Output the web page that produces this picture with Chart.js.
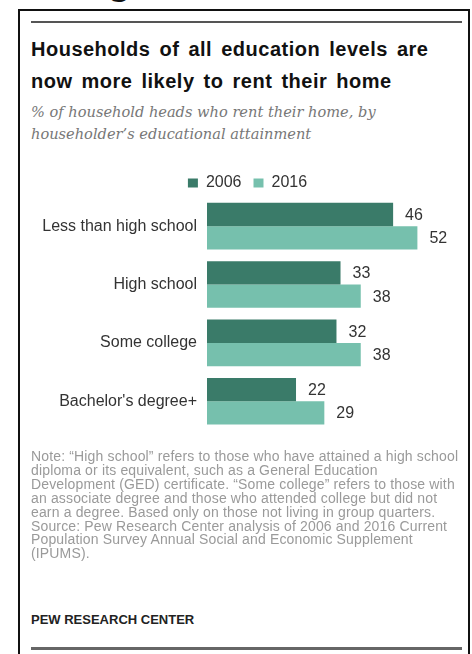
<!DOCTYPE html>
<html>
<head>
<meta charset="utf-8">
<script src="https://cdn.jsdelivr.net/npm/chart.js@4.4.0/dist/chart.umd.min.js"></script>
<style>
  html, body { margin: 0; padding: 0; background: #fff; }
  body { width: 472px; height: 654px; position: relative; overflow: hidden; }
  .frame { position: absolute; left: 18px; top: 9px; width: 452px; height: 700px; box-sizing: border-box;
           border: 2px solid #111; }
  .rule { position: absolute; left: 31px; width: 431px; background: #555; }
  .clip { position: absolute; left: 100px; top: 0; width: 40px; height: 3px; overflow: hidden; }
  .clip span { position: absolute; left: 7px; top: -40px; font-family: "Liberation Sans", Arial, sans-serif;
               font-weight: bold; font-size: 40px; line-height: 40px; color: #111; }
  .title { position: absolute; left: 31px; top: 33px; font-family: "Liberation Sans", Arial, sans-serif;
           font-weight: bold; font-size: 20px; line-height: 32px; color: #111; white-space: nowrap;
           letter-spacing: 0.5px; word-spacing: 3px; }
  .subtitle { position: absolute; left: 31px; top: 101px; font-family: "DejaVu Serif", serif; font-style: italic;
              font-size: 14.6px; line-height: 22px; color: #777; white-space: nowrap; }
  .note { position: absolute; left: 31px; top: 450px; font-family: "Liberation Sans", Arial, sans-serif;
          font-size: 14px; line-height: 13.9px; letter-spacing: 0.15px; color: #9a9a9a; white-space: nowrap; }
  .source { position: absolute; left: 31px; top: 613px; font-family: "Liberation Sans", Arial, sans-serif;
            font-weight: bold; font-size: 13px; line-height: 14px; color: #222; white-space: nowrap; }
  .chartbox { position: absolute; left: 25px; top: 163px; width: 445px; height: 287px; }
</style>
</head>
<body>
<div class="frame"></div>
<div class="clip"><span>g</span></div>
<div class="rule" style="top:21px;height:2px;"></div>
<div class="title">Households of all education levels are<br>now more likely to rent their home</div>
<div class="subtitle">% of household heads who rent their home, by<br>householder’s educational attainment</div>
<div class="chartbox"><canvas id="c" width="445" height="287"></canvas></div>
<div class="note">Note: “High school” refers to those who have attained a high school<br>diploma or its equivalent, such as a General Education<br>Development (GED) certificate. “Some college” refers to those with<br>an associate degree and those who attended college but did not<br>earn a degree. Based only on those not living in group quarters.<br>Source: Pew Research Center analysis of 2006 and 2016 Current<br>Population Survey Annual Social and Economic Supplement<br>(IPUMS).</div>
<div class="source">PEW RESEARCH CENTER</div>
<div class="rule" style="top:647px;height:3px;background:#666;"></div>
<script>
const categories = ["Less than high school", "High school", "Some college", "Bachelor's degree+"];
const seriesNames = ["2006", "2016"];
const values2006 = [46, 33, 32, 22];
const values2016 = [52, 38, 38, 29];

const DARK = "#3a7b69";
const LIGHT = "#76c0ad";

const valueLabels = {
  id: "valueLabels",
  afterDatasetsDraw(chart) {
    const ctx = chart.ctx;
    ctx.save();
    ctx.font = '16px "Liberation Sans", Arial, sans-serif';
    ctx.fillStyle = "#333";
    ctx.textAlign = "left";
    ctx.textBaseline = "middle";
    chart.data.datasets.forEach((ds, i) => {
      chart.getDatasetMeta(i).data.forEach((bar, j) => {
        ctx.fillText(String(ds.data[j]), bar.x + 12, bar.y + 1);
      });
    });
    ctx.restore();
  }
};

const legendHeight = {
  id: "legendHeight",
  afterInit(chart) {
    const lg = chart.legend;
    const orig = lg.fit;
    lg.fit = function () { orig.call(this); this.height = 34; };
  }
};

new Chart(document.getElementById("c"), {
  type: "bar",
  data: {
    labels: categories,
    datasets: [
      { label: seriesNames[0], data: values2006, backgroundColor: DARK },
      { label: seriesNames[1], data: values2016, backgroundColor: LIGHT }
    ]
  },
  options: {
    indexAxis: "y",
    responsive: false,
    animation: false,
    events: [],
    datasets: { bar: { categoryPercentage: 0.8, barPercentage: 1.0 } },
    layout: { padding: { left: 0, right: 0, top: 0, bottom: 10 } },
    plugins: {
      legend: {
        display: true,
        position: "top",
        align: "center",
        labels: {
          boxWidth: 10, boxHeight: 9, padding: 12, color: "#333",
          font: { family: '"Liberation Sans", Arial, sans-serif', size: 16 }
        }
      },
      tooltip: { enabled: false },
      title: { display: false }
    },
    scales: {
      x: { display: false, min: 0, max: 65 },
      y: {
        grid: { display: false, drawTicks: false },
        border: { display: false },
        ticks: { padding: 10, color: "#333", font: { family: '"Liberation Sans", Arial, sans-serif', size: 16 } },
        afterFit(s) { s.width = 182; }
      }
    }
  },
  plugins: [valueLabels, legendHeight]
});
</script>
</body>
</html>
